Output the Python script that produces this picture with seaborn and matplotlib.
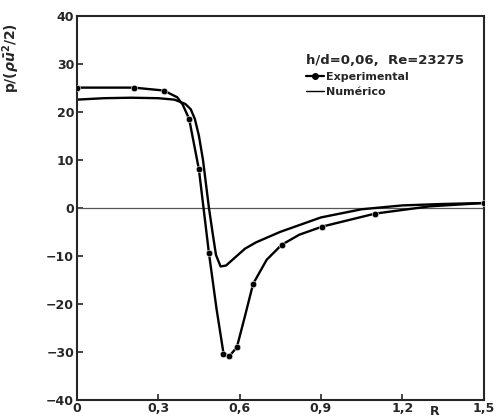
import numpy as np
import pandas as pd
import matplotlib
matplotlib.use("Agg")
import matplotlib.pyplot as plt
import seaborn as sns

# experimental measurements (markers)
exp_x = [0.0, 0.21, 0.32, 0.414, 0.45, 0.487, 0.54, 0.56, 0.59, 0.65, 0.755, 0.905, 1.10, 1.5]
exp_p = [25.0, 25.0, 24.4, 18.5, 8.0, -9.4, -30.4, -30.8, -29.0, -15.8, -7.7, -3.9, -1.2, 1.0]

# hand-drawn curve through the experimental points
exp_curve_x = [0.0, 0.21, 0.32, 0.37, 0.39, 0.414, 0.45, 0.487, 0.515, 0.54, 0.56, 0.59, 0.62, 0.65, 0.70, 0.755, 0.82, 0.905, 1.10, 1.3, 1.5]
exp_curve_p = [25.0, 25.0, 24.4, 23.0, 21.5, 18.5, 8.0, -9.4, -21.0, -30.0, -31.0, -29.0, -22.5, -15.8, -10.8, -7.7, -5.6, -3.9, -1.2, 0.3, 1.0]

# numerical solution
num_x = [0.0, 0.1, 0.2, 0.3, 0.36, 0.40, 0.42, 0.435, 0.45, 0.465, 0.476, 0.487, 0.50, 0.513,
         0.53, 0.55, 0.58, 0.62, 0.66, 0.75, 0.9, 1.05, 1.2, 1.35, 1.5]
num_p = [22.5, 22.8, 22.9, 22.8, 22.5, 21.6, 20.5, 18.5, 15.0, 10.0, 5.0, 0.0, -5.0, -9.8,
         -12.2, -12.0, -10.5, -8.5, -7.2, -5.0, -2.0, -0.3, 0.5, 0.8, 1.0]

x_ticks = [0, 0.3, 0.6, 0.9, 1.2, 1.5]
x_labels = ["0", "0,3", "0,6", "0,9", "1,2", "1,5"]
y_ticks = [-40, -30, -20, -10, 0, 10, 20, 30, 40]

sns.set_style("ticks")
plt.rcParams["font.family"] = ["DejaVu Sans"]
plt.rcParams["font.weight"] = "bold"

fig = plt.figure(figsize=(4.96, 4.19), dpi=100)
ax = fig.add_axes([0.155, 0.045, 0.82, 0.918])

df_curve = pd.DataFrame({"R": exp_curve_x, "p": exp_curve_p})
df_exp = pd.DataFrame({"R": exp_x, "p": exp_p})
df_num = pd.DataFrame({"R": num_x, "p": num_p})

ax.axhline(0, color="#555555", lw=0.9, zorder=1)
sns.lineplot(data=df_curve, x="R", y="p", color="black", lw=1.7, sort=False, ax=ax)
sns.scatterplot(data=df_exp, x="R", y="p", color="black", s=22, marker="o", ax=ax, zorder=4)
sns.lineplot(data=df_num, x="R", y="p", color="black", lw=1.7, sort=False, ax=ax)

ax.set_xlim(0, 1.5)
ax.set_ylim(-40, 40)
ax.set_xticks(x_ticks)
ax.set_xticklabels(x_labels)
ax.set_yticks(y_ticks)
ax.tick_params(direction="in", length=4, width=1.2, labelsize=9, pad=2)
ax.tick_params(axis="x", pad=1)
for s in ax.spines.values():
    s.set_linewidth(1.5)
    s.set_visible(True)

ax.set_xlabel("R", fontsize=9, fontweight="bold", va="center")
ax.xaxis.set_label_coords(0.88, -0.03)
ax.set_ylabel(r"p/($\rho\bar{u}^{2}$/2)", fontsize=10, fontweight="bold")
ax.yaxis.set_label_coords(-0.135, 0.89)

h_exp = plt.Line2D([], [], color="black", lw=1.6, marker="o", ms=4)
h_num = plt.Line2D([], [], color="black", lw=1.0)
leg = ax.legend([h_exp, h_num], ["Experimental", "Numérico"], title="h/d=0,06,  Re=23275",
                loc="upper left", bbox_to_anchor=(0.55, 0.915), frameon=False,
                handlelength=1.6, handletextpad=0.2, borderpad=0, labelspacing=0.45,
                prop={"size": 8, "weight": "bold"}, title_fontproperties={"size": 9.5, "weight": "bold"})
leg._legend_box.align = "left"

fig.savefig("out.png", dpi=100)
